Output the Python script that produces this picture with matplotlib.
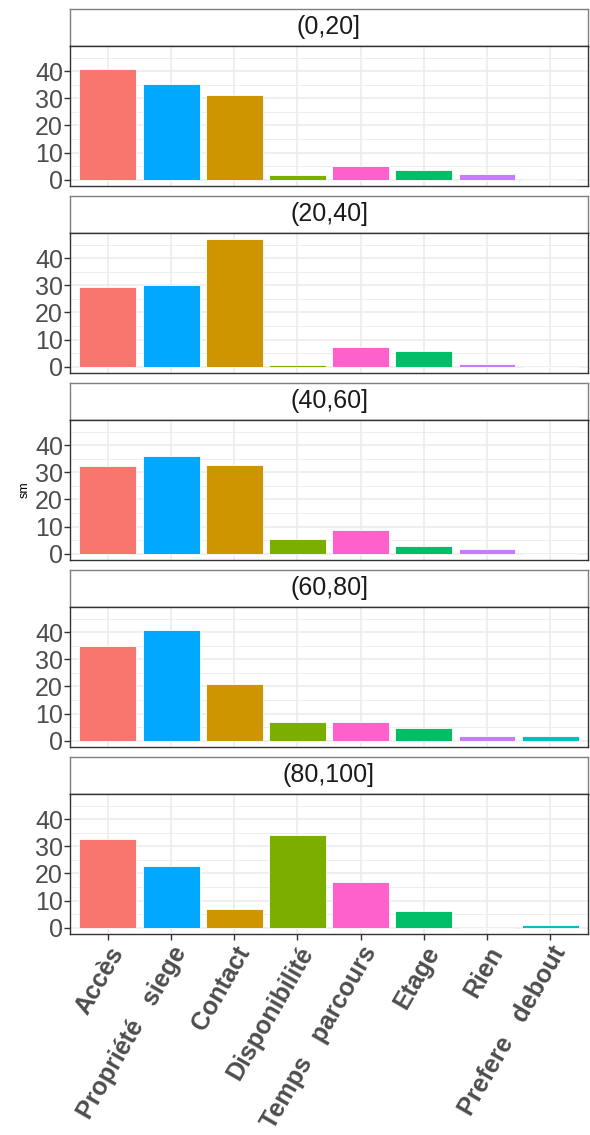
import numpy as np
import matplotlib.pyplot as plt

plt.rcParams['font.family'] = ['Liberation Sans', 'DejaVu Sans']

# categories and facet labels
categories = ['Accès', 'Propriété   siege', 'Contact', 'Disponibilité',
              'Temps   parcours', 'Etage', 'Rien', 'Prefere   debout']
facets = ['(0,20]', '(20,40]', '(40,60]', '(60,80]', '(80,100]']

# values per facet
sm_0_20 = [41.0, 35.2, 31.4, 1.6, 4.9, 3.6, 2.1, 0.0]
sm_20_40 = [29.4, 30.1, 47.0, 0.7, 7.3, 5.9, 1.0, 0.0]
sm_40_60 = [32.2, 36.1, 32.8, 5.3, 8.8, 3.0, 1.6, 0.0]
sm_60_80 = [34.9, 40.7, 20.9, 7.0, 7.0, 4.8, 1.8, 1.8]
sm_80_100 = [32.9, 22.9, 6.9, 34.1, 16.7, 6.0, 0.0, 0.8]
values = [sm_0_20, sm_20_40, sm_40_60, sm_60_80, sm_80_100]

colors = ['#F8766D', '#00A9FF', '#CD9600', '#7CAE00',
          '#FF61CC', '#00BE67', '#C77CFF', '#00BFC4']

W, H = 590, 1135
fig = plt.figure(figsize=(W / 100, H / 100), dpi=100)

left, right = 70, 588
strip_h, panel_h, step, top0 = 37, 140, 187, 9

ymax = max(max(v) for v in values)
ylim = (-0.05 * ymax, 1.05 * ymax)
x = np.arange(len(categories))

for i, (lab, vals) in enumerate(zip(facets, values)):
    st = top0 + step * i
    # strip
    sax = fig.add_axes([left / W, 1 - (st + strip_h) / H, (right - left) / W, strip_h / H])
    sax.set_xticks([])
    sax.set_yticks([])
    for s in sax.spines.values():
        s.set_color('#7F7F7F')
        s.set_linewidth(1.0)
    sax.spines['bottom'].set_color('#333333')
    sax.text(0.5, 0.52, lab, ha='center', va='center', fontsize=18, color='#1A1A1A',
             transform=sax.transAxes)

    # panel
    pt = st + strip_h
    ax = fig.add_axes([left / W, 1 - (pt + panel_h) / H, (right - left) / W, panel_h / H])
    ax.bar(x, vals, width=0.9, color=colors, edgecolor='white', linewidth=0.6, zorder=3)
    ax.set_xlim(-0.6, len(categories) - 0.4)
    ax.set_ylim(*ylim)
    ax.set_yticks([0, 10, 20, 30, 40])
    ax.set_yticks([5, 15, 25, 35, 45], minor=True)
    ax.set_xticks(x)
    ax.grid(True, which='major', color='#EBEBEB', linewidth=1.1, zorder=0)
    ax.grid(True, which='minor', axis='y', color='#EBEBEB', linewidth=0.6, zorder=0)
    ax.tick_params(axis='y', which='major', labelsize=18, labelcolor='#4D4D4D',
                   color='#333333', length=4, width=1, pad=1)
    ax.tick_params(axis='y', which='minor', length=0)
    for s in ax.spines.values():
        s.set_color('#333333')
        s.set_linewidth(1.0)
    if i == len(facets) - 1:
        ax.set_xticklabels(categories, rotation=60, ha='right', va='top',
                           rotation_mode='anchor', fontsize=18, fontweight='bold',
                           color='#4D4D4D')
        ax.tick_params(axis='x', color='#333333', length=4, width=1, pad=2)
    else:
        ax.set_xticklabels([])
        ax.tick_params(axis='x', length=0)
    if i == 2:
        ax.set_ylabel('sm', fontsize=9, labelpad=3)

fig.savefig('out.png', dpi=100)
